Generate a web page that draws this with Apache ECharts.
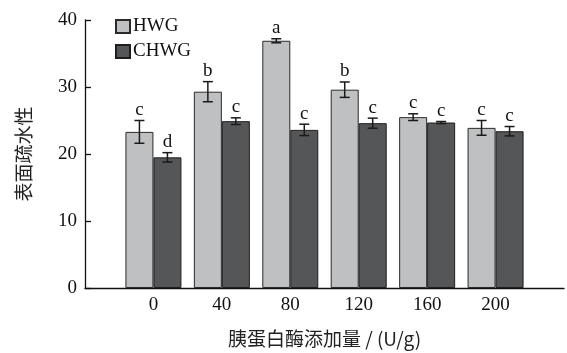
<!DOCTYPE html>
<html>
<head>
<meta charset="utf-8">
<script src="https://cdn.jsdelivr.net/npm/echarts@6/dist/echarts.min.js"></script>
<style>
  html, body { margin: 0; padding: 0; background: #fff; }
  #chart { width: 567px; height: 353px; }
</style>
</head>
<body>
<div id="chart"></div>
<script>
// Trypsin dose groups (U/g)
const doses = ['0', '40', '80', '120', '160', '200'];
// Surface hydrophobicity, means
const hwg = [23.3, 29.3, 36.9, 29.6, 25.5, 23.9];
const chwg = [19.5, 24.9, 23.6, 24.6, 24.7, 23.4];
// Standard deviations
const hwgErr = [1.7, 1.5, 0.3, 1.15, 0.5, 1.1];
const chwgErr = [0.7, 0.5, 0.85, 0.75, 0.15, 0.7];
// Significance letters
const hwgSig = ['c', 'b', 'a', 'b', 'c', 'c'];
const chwgSig = ['d', 'c', 'c', 'c', 'c', 'c'];
const yTicks = [0, 10, 20, 30, 40];

const BAR_W = 28;
const SERIF = '"Liberation Serif", "Times New Roman", "Noto Sans CJK SC", serif';
const CJK = '"Noto Sans CJK SC", "Liberation Serif", serif';

function errSeries(name, vals, errs, sig, side) {
  return {
    type: 'custom',
    name: name + '-err',
    z: 5,
    data: vals.map((v, i) => [i + 1, v, errs[i]]),
    renderItem(params, api) {
      const x = api.value(0), v = api.value(1), e = api.value(2);
      const s = sig[params.dataIndex];
      const top = api.coord([x, v + e]);
      const bot = api.coord([x, v - e]);
      const cx = top[0] + side * BAR_W / 2;
      const cap = 5;
      const st = { stroke: '#1a1a1a', lineWidth: 1.5 };
      return {
        type: 'group',
        children: [
          { type: 'line', shape: { x1: cx, y1: top[1], x2: cx, y2: bot[1] }, style: st },
          { type: 'line', shape: { x1: cx - cap, y1: top[1], x2: cx + cap, y2: top[1] }, style: st },
          { type: 'line', shape: { x1: cx - cap, y1: bot[1], x2: cx + cap, y2: bot[1] }, style: st },
          { type: 'text', x: cx, y: top[1] - 1,
            style: { text: s, fill: '#111', font: '19px ' + SERIF, textAlign: 'center', textVerticalAlign: 'bottom' } }
        ]
      };
    }
  };
}

const chart = echarts.init(document.getElementById('chart'), null, { renderer: 'canvas' });
chart.setOption({
  animation: false,
  backgroundColor: '#fff',
  grid: { left: 85, top: 20, width: 487, height: 269, containLabel: false },
  legend: {
    orient: 'vertical',
    left: 110, top: 12,
    itemWidth: 14, itemHeight: 13, itemGap: 6,
    icon: 'rect',
    textStyle: { fontFamily: SERIF, fontSize: 19, color: '#111', padding: [0, 0, 0, -2] },
    data: ['HWG', 'CHWG']
  },
  xAxis: {
    type: 'value', min: 0, max: 7, interval: 1,
    name: '胰蛋白酶添加量 / (U/g)',
    nameLocation: 'middle', nameGap: 41,
    nameTextStyle: { fontFamily: CJK, fontSize: 19, color: '#222' },
    axisLine: { show: true, onZero: false, lineStyle: { color: '#111', width: 1.3 } },
    axisTick: { show: false },
    splitLine: { show: false },
    axisLabel: {
      fontFamily: SERIF, fontSize: 19, color: '#111', margin: 8,
      formatter: v => (v >= 1 && v <= doses.length) ? doses[v - 1] : ''
    }
  },
  yAxis: {
    type: 'value', min: yTicks[0], max: yTicks[yTicks.length - 1], interval: 10,
    name: '表面疏水性',
    nameLocation: 'middle', nameGap: 52, nameRotate: 90,
    nameTextStyle: { fontFamily: CJK, fontSize: 19, color: '#222' },
    axisLine: { show: true, lineStyle: { color: '#111', width: 1.3 } },
    axisTick: { show: true, inside: true, length: 6, lineStyle: { color: '#111', width: 1.3 } },
    splitLine: { show: false },
    axisLabel: { fontFamily: SERIF, fontSize: 19, color: '#111', margin: 8 }
  },
  series: [
    {
      name: 'HWG', type: 'bar', barWidth: BAR_W, barGap: '0%',
      data: hwg.map((v, i) => [i + 1, v]),
      itemStyle: { color: '#bfc0c2', borderColor: '#2a2a2a', borderWidth: 1 }
    },
    {
      name: 'CHWG', type: 'bar', barWidth: BAR_W, barGap: '0%',
      data: chwg.map((v, i) => [i + 1, v]),
      itemStyle: { color: '#555658', borderColor: '#1e1e1e', borderWidth: 1 }
    },
    errSeries('HWG', hwg, hwgErr, hwgSig, -1),
    errSeries('CHWG', chwg, chwgErr, chwgSig, 1)
  ]
});
</script>
</body>
</html>
